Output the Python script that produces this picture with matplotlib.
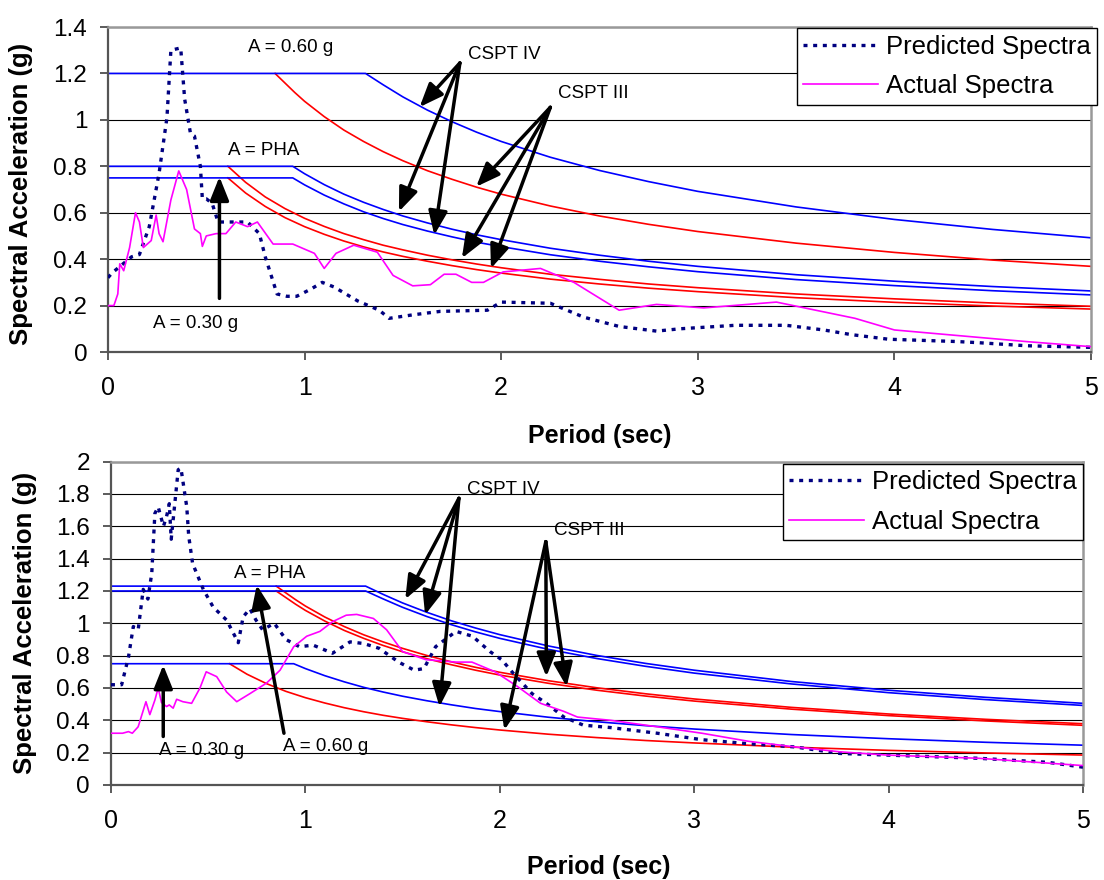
import matplotlib
matplotlib.use('Agg')
import matplotlib.pyplot as plt
import numpy as np
from matplotlib.ticker import FuncFormatter

plt.rcParams['font.family'] = ['Liberation Sans', 'DejaVu Sans']

# ---- design spectra (period in sec, Sa in g) ----
T_iv_hi = [0, 1.31, 1.4, 1.5, 1.625, 1.75, 1.875, 2, 2.25, 2.5, 2.75, 3, 3.5, 4, 4.5, 5]
Sa_a60_iv = [1.2, 1.2, 1.151, 1.099, 1.042, 0.992, 0.947, 0.907, 0.839, 0.782, 0.734,
             0.692, 0.625, 0.571, 0.528, 0.492]
Sa_pha2_iv = [1.23, 1.23, 1.179, 1.126, 1.068, 1.016, 0.971, 0.930, 0.860, 0.801, 0.752,
              0.710, 0.640, 0.586, 0.542, 0.505]

T_iii_hi = [0.85, 0.9, 0.95, 1.0, 1.1, 1.2, 1.3, 1.4, 1.5, 1.625, 1.75, 1.875, 2, 2.25,
            2.5, 2.75, 3, 3.5, 4, 4.5, 5]
Sa_a60_iii = [1.2, 1.159, 1.118, 1.08, 1.014, 0.956, 0.907, 0.863, 0.824, 0.781, 0.744,
              0.710, 0.680, 0.629, 0.586, 0.550, 0.519, 0.469, 0.429, 0.396, 0.369]
Sa_pha2_iii = [1.23, 1.188, 1.146, 1.107, 1.039, 0.980, 0.929, 0.885, 0.845, 0.801, 0.762,
               0.728, 0.697, 0.645, 0.601, 0.564, 0.532, 0.480, 0.439, 0.406, 0.379]

T_iv_lo = [0, 0.94, 1.0, 1.1, 1.2, 1.3, 1.4, 1.5, 1.625, 1.75, 1.875, 2, 2.25, 2.5, 2.75,
           3, 3.5, 4, 4.5, 5]
Sa_pha1_iv = [0.8, 0.8, 0.768, 0.721, 0.680, 0.645, 0.614, 0.586, 0.556, 0.529, 0.505,
              0.484, 0.447, 0.417, 0.391, 0.369, 0.333, 0.305, 0.282, 0.263]
Sa_a30_iv = [0.75, 0.75, 0.72, 0.676, 0.638, 0.604, 0.575, 0.549, 0.521, 0.496, 0.473,
             0.454, 0.419, 0.391, 0.367, 0.346, 0.312, 0.286, 0.264, 0.246]

T_iii_lo = [0.61, 0.7, 0.8, 0.9, 1.0, 1.1, 1.2, 1.3, 1.4, 1.5, 1.625, 1.75, 1.875, 2, 2.25,
            2.5, 2.75, 3, 3.5, 4, 4.5, 5]
Sa_pha1_iii = [0.8, 0.731, 0.668, 0.618, 0.576, 0.541, 0.510, 0.484, 0.460, 0.440, 0.417,
               0.397, 0.379, 0.363, 0.335, 0.313, 0.293, 0.277, 0.250, 0.229, 0.211, 0.197]
Sa_a30_iii = [0.75, 0.685, 0.627, 0.579, 0.54, 0.507, 0.478, 0.453, 0.431, 0.412, 0.391,
              0.372, 0.355, 0.340, 0.314, 0.293, 0.275, 0.260, 0.234, 0.214, 0.198, 0.185]

# ---- recorded spectra, top chart ----
pred_T_top = [0, 0.02, 0.12, 0.16, 0.21, 0.26, 0.30, 0.32, 0.37, 0.39, 0.42, 0.44,
              0.47, 0.48, 0.50, 0.53, 0.56, 0.60, 0.71, 0.77, 0.80, 0.86, 0.91, 0.96,
              1.03, 1.09, 1.15, 1.27, 1.38, 1.43, 1.55, 1.69, 1.93, 2.00, 2.25, 2.42,
              2.60, 2.79, 2.91, 3.19, 3.45, 3.64, 3.78, 3.97, 4.32, 4.43, 4.67, 5.0]
pred_Sa_top = [0.32, 0.34, 0.41, 0.42, 0.54, 0.77, 1.01, 1.30, 1.31, 1.09, 0.94, 0.93,
               0.80, 0.66, 0.66, 0.64, 0.56, 0.56, 0.56, 0.51, 0.41, 0.25, 0.24, 0.24,
               0.27, 0.30, 0.28, 0.22, 0.18, 0.145, 0.16, 0.175, 0.18, 0.215, 0.21, 0.15,
               0.11, 0.09, 0.10, 0.115, 0.115, 0.095, 0.075, 0.055, 0.045, 0.04, 0.027, 0.02]

act_T_top = [0, 0.03, 0.05, 0.06, 0.08, 0.11, 0.14, 0.16, 0.18, 0.22, 0.245, 0.26,
             0.28, 0.32, 0.36, 0.40, 0.44, 0.47, 0.48, 0.50, 0.55, 0.60, 0.65, 0.71,
             0.76, 0.84, 0.94, 1.05, 1.10, 1.16, 1.25, 1.37, 1.45, 1.55, 1.64, 1.71,
             1.77, 1.85, 1.91, 2.01, 2.20, 2.37, 2.60, 2.79, 3.03, 3.40, 3.80, 4.00,
             4.20, 4.67, 5.0]
act_Sa_top = [0.20, 0.20, 0.25, 0.38, 0.35, 0.45, 0.60, 0.56, 0.45, 0.48, 0.59, 0.51,
              0.475, 0.655, 0.78, 0.70, 0.53, 0.51, 0.455, 0.50, 0.51, 0.51, 0.56, 0.54,
              0.56, 0.465, 0.465, 0.425, 0.36, 0.425, 0.46, 0.43, 0.33, 0.285, 0.29, 0.335,
              0.335, 0.30, 0.30, 0.345, 0.36, 0.30, 0.18, 0.205, 0.19, 0.215, 0.145, 0.095,
              0.08, 0.045, 0.023]

# ---- recorded spectra, bottom chart ----
pred_T_bot = [0, 0.055, 0.09, 0.115, 0.14, 0.166, 0.19, 0.21, 0.226, 0.243, 0.27, 0.286,
              0.30, 0.31, 0.32, 0.346, 0.36, 0.39, 0.40, 0.42, 0.475, 0.526, 0.595, 0.655,
              0.68, 0.715, 0.746, 0.78, 0.84, 0.90, 0.97, 1.04, 1.14, 1.23, 1.30, 1.38,
              1.48, 1.56, 1.61, 1.67, 1.775, 1.86, 1.95, 2.01, 2.07, 2.166, 2.24, 2.33,
              2.43, 2.57, 2.81, 3.04, 3.28, 3.52, 3.75, 3.99, 4.465, 4.82, 5.0]
pred_Sa_bot = [0.62, 0.62, 0.79, 0.98, 0.96, 1.21, 1.15, 1.31, 1.68, 1.72, 1.60, 1.66,
               1.74, 1.52, 1.64, 1.95, 1.96, 1.72, 1.54, 1.37, 1.21, 1.10, 1.02, 0.88,
               1.04, 1.09, 1.02, 0.96, 1.00, 0.90, 0.855, 0.865, 0.815, 0.885, 0.875, 0.845,
               0.76, 0.71, 0.72, 0.855, 0.95, 0.92, 0.825, 0.775, 0.69, 0.565, 0.505, 0.42,
               0.37, 0.355, 0.32, 0.28, 0.255, 0.235, 0.195, 0.185, 0.165, 0.14, 0.11]

act_T_bot = [0, 0.06, 0.09, 0.11, 0.14, 0.18, 0.20, 0.226, 0.243, 0.26, 0.286, 0.30,
             0.32, 0.338, 0.37, 0.415, 0.458, 0.49, 0.544, 0.595, 0.647, 0.715, 0.80,
             0.87, 0.94, 1.007, 1.075, 1.14, 1.21, 1.264, 1.35, 1.418, 1.50, 1.62, 1.775,
             1.857, 1.976, 2.09, 2.21, 2.33, 2.40, 2.57, 2.81, 3.04, 3.28, 3.52, 3.75,
             3.99, 4.465, 4.94, 5.0]
act_Sa_bot = [0.32, 0.32, 0.33, 0.32, 0.36, 0.515, 0.435, 0.525, 0.60, 0.51, 0.485, 0.495,
              0.475, 0.53, 0.515, 0.505, 0.60, 0.70, 0.67, 0.575, 0.515, 0.565, 0.63,
              0.71, 0.855, 0.92, 0.95, 1.01, 1.05, 1.055, 1.03, 0.96, 0.825, 0.775, 0.76,
              0.76, 0.70, 0.61, 0.505, 0.455, 0.42, 0.40, 0.36, 0.32, 0.27, 0.235, 0.205,
              0.185, 0.165, 0.125, 0.12]

# annotation texts (label, x, y) and arrows (from, to)
top_labels = [("A = 0.60 g", 0.71, 1.31), ("A = PHA", 0.61, 0.87), ("A = 0.30 g", 0.227, 0.124),
              ("CSPT IV", 1.83, 1.28), ("CSPT III", 2.29, 1.115)]
top_arrows = [((0.567, 0.231), (0.567, 0.755)),
              ((1.79, 1.245), (1.585, 1.055)), ((1.79, 1.245), (1.48, 0.605)), ((1.79, 1.245), (1.66, 0.504)),
              ((2.25, 1.054), (1.873, 0.712)), ((2.25, 1.054), (1.80, 0.404)), ((2.25, 1.054), (1.948, 0.36))]
bot_labels = [("A = PHA", 0.634, 1.31), ("A = 0.60 g", 0.883, 0.237), ("A = 0.30 g", 0.248, 0.216),
              ("CSPT IV", 1.834, 1.825), ("CSPT III", 2.28, 1.577)]
bot_arrows = [((0.89, 0.32), (0.75, 1.237)), ((0.269, 0.30), (0.269, 0.742)),
              ((1.79, 1.773), (1.514, 1.149)), ((1.79, 1.773), (1.616, 1.052)), ((1.79, 1.773), (1.69, 0.484)),
              ((2.237, 1.505), (2.024, 0.34)), ((2.237, 1.505), (2.24, 0.67)), ((2.237, 1.505), (2.344, 0.608))]

BLUE, RED, NAVY, MAG = '#0000FF', '#FF0000', '#000080', '#FF00FF'


def draw_panel(ax, ymax, blues, reds, pred, act, labels, arrows, leg_anchor):
    for T, S in reds:
        ax.plot(T, S, color=RED, lw=1.2, zorder=2)
    for T, S in blues:
        ax.plot(T, S, color=BLUE, lw=1.2, zorder=2)
    ax.plot(pred[0], pred[1], color=NAVY, lw=2.4, linestyle=(0, (1.2, 1.7)),
            label='Predicted Spectra', zorder=3)
    ax.plot(act[0], act[1], color=MAG, lw=1.2, label='Actual Spectra', zorder=3)

    for txt, x, y in labels:
        ax.text(x, y, txt, fontsize=13.5, ha='left', va='center', zorder=5)
    for (x0, y0), (x1, y1) in arrows:
        ax.annotate('', xy=(x1, y1), xytext=(x0, y0), zorder=6,
                    arrowprops=dict(arrowstyle='-|>,head_length=0.8,head_width=0.32',
                                    color='black', lw=2.5, shrinkA=0, shrinkB=0,
                                    mutation_scale=18))

    ax.set_xlim(0, 5)
    ax.set_ylim(0, ymax)
    ax.set_xticks(range(6))
    ax.set_yticks(np.arange(0, ymax + 0.01, 0.2))
    ax.yaxis.set_major_formatter(FuncFormatter(lambda v, p: f'{v:g}'))
    ax.grid(axis='y', color='black', lw=0.8)
    ax.set_axisbelow(True)
    ax.tick_params(axis='both', direction='out', length=6, width=1.2, color='#404040')
    ax.tick_params(axis='x', labelsize=18, pad=11)
    ax.tick_params(axis='y', labelsize=17.5, pad=9)
    for side in ('top', 'right'):
        ax.spines[side].set_color('#999999')
        ax.spines[side].set_linewidth(1.8)
    for side in ('left', 'bottom'):
        ax.spines[side].set_color('#555555')
        ax.spines[side].set_linewidth(1.6)

    leg = ax.legend(loc='upper left', bbox_to_anchor=leg_anchor, fontsize=18.5,
                    frameon=True, fancybox=False, framealpha=1, edgecolor='black',
                    handlelength=2.9, handletextpad=0.3, labelspacing=0.6,
                    borderpad=0.25, borderaxespad=0)
    leg.get_frame().set_linewidth(1.0)
    leg.set_zorder(7)


fig = plt.figure(figsize=(11.04, 8.8), dpi=100)
ax1 = fig.add_axes([0.0978, 0.6, 0.8904, 0.3693])
ax2 = fig.add_axes([0.1005, 0.108, 0.8804, 0.3674])

draw_panel(ax1, 1.4,
           blues=[(T_iv_hi, Sa_a60_iv), (T_iv_lo, Sa_pha1_iv), (T_iv_lo, Sa_a30_iv)],
           reds=[(T_iii_hi, Sa_a60_iii), (T_iii_lo, Sa_pha1_iii), (T_iii_lo, Sa_a30_iii)],
           pred=(pred_T_top, pred_Sa_top), act=(act_T_top, act_Sa_top),
           labels=top_labels, arrows=top_arrows, leg_anchor=(0.701, 0.996))

draw_panel(ax2, 2.0,
           blues=[(T_iv_hi, Sa_pha2_iv), (T_iv_hi, Sa_a60_iv), (T_iv_lo, Sa_a30_iv)],
           reds=[(T_iii_hi, Sa_pha2_iii), (T_iii_hi, Sa_a60_iii), (T_iii_lo, Sa_a30_iii)],
           pred=(pred_T_bot, pred_Sa_bot), act=(act_T_bot, act_Sa_bot),
           labels=bot_labels, arrows=bot_arrows, leg_anchor=(0.6914, 0.993))

for ax, ylab_y, xlab_x, xlab_y in ((ax1, 0.486, 0.5005, -0.2215), (ax2, 0.501, 0.5016, -0.2165)):
    ax.set_ylabel('Spectral Acceleration (g)', fontsize=18.5, fontweight='bold')
    ax.yaxis.set_label_coords(-0.076, ylab_y)
    ax.set_xlabel('Period (sec)', fontsize=18, fontweight='bold')
    ax.xaxis.set_label_coords(xlab_x, xlab_y)

fig.savefig('out.png', dpi=100)
